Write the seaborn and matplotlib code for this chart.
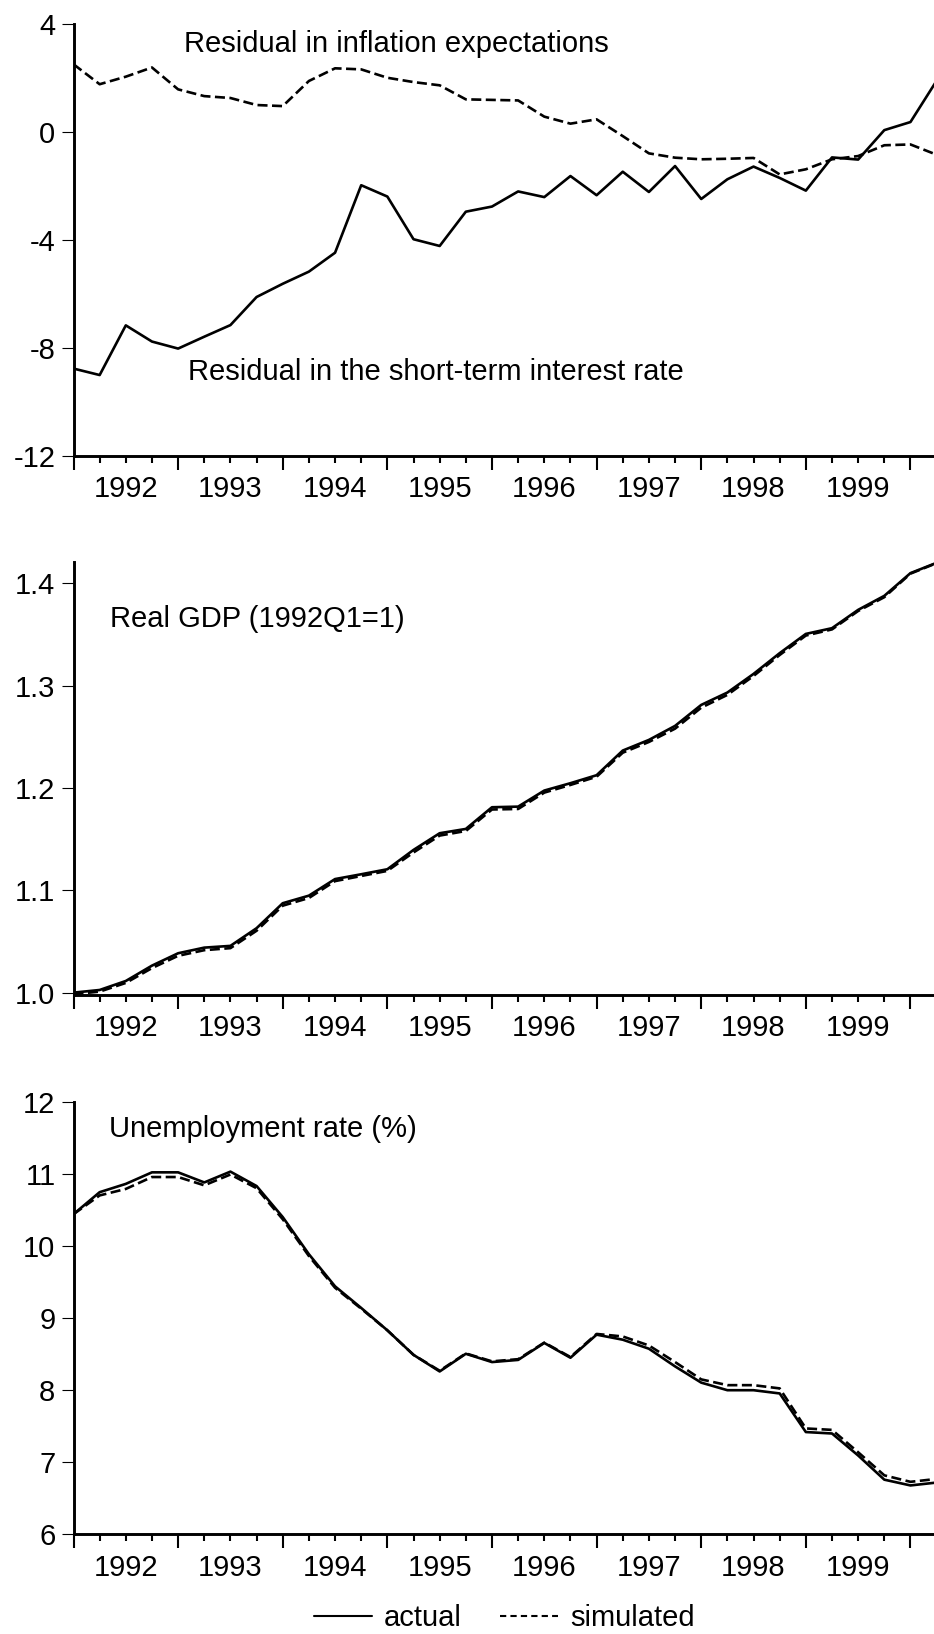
import numpy as np
import pandas as pd
import matplotlib
matplotlib.use("Agg")
import matplotlib.pyplot as plt
from matplotlib.lines import Line2D
from matplotlib.ticker import FixedLocator, FuncFormatter
import seaborn as sns

# quarterly sample, 1992Q1 onwards
quarters = [str(p) for p in pd.period_range("1992Q1", periods=34, freq="Q")]

# panel 1: residuals
resid_interest = [-8.76, -9.00, -7.16, -7.76, -8.02, -7.58, -7.15, -6.11, -5.62, -5.17,
                  -4.47, -1.97, -2.39, -3.97, -4.22, -2.95, -2.76, -2.20, -2.41, -1.63,
                  -2.34, -1.47, -2.22, -1.26, -2.48, -1.75, -1.28, -1.70, -2.17, -0.94,
                  -1.02, 0.07, 0.37, 1.90]
resid_inflation = [2.51, 1.77, 2.05, 2.39, 1.58, 1.33, 1.26, 1.00, 0.96, 1.89,
                   2.36, 2.32, 2.01, 1.85, 1.73, 1.21, 1.19, 1.17, 0.57, 0.31,
                   0.47, -0.15, -0.79, -0.95, -1.01, -0.99, -0.96, -1.57, -1.38, -1.01,
                   -0.89, -0.49, -0.46, -0.84]

# panel 2: real GDP index
gdp_actual = [1.0000, 1.0026, 1.0114, 1.0264, 1.0385, 1.0440, 1.0457, 1.0630, 1.0874, 1.0948,
              1.1110, 1.1157, 1.1206, 1.1395, 1.1558, 1.1600, 1.1812, 1.1818, 1.1975, 1.2047,
              1.2125, 1.2366, 1.2470, 1.2607, 1.2812, 1.2933, 1.3115, 1.3318, 1.3506, 1.3562,
              1.3741, 1.3878, 1.4100, 1.4201]
gdp_simulated = [0.9985, 1.0010, 1.0095, 1.0240, 1.0360, 1.0415, 1.0435, 1.0605, 1.0850, 1.0925,
                 1.1090, 1.1140, 1.1190, 1.1370, 1.1535, 1.1580, 1.1790, 1.1795, 1.1955, 1.2030,
                 1.2110, 1.2345, 1.2450, 1.2580, 1.2785, 1.2910, 1.3095, 1.3300, 1.3490, 1.3550,
                 1.3730, 1.3865, 1.4095, 1.4198]

# panel 3: unemployment rate
unemp_actual = [10.44, 10.745, 10.86, 11.02, 11.02, 10.88, 11.03, 10.83, 10.40, 9.885,
                9.44, 9.14, 8.83, 8.49, 8.26, 8.505, 8.39, 8.42, 8.655, 8.45,
                8.77, 8.70, 8.575, 8.33, 8.105, 8.00, 8.00, 7.955, 7.42, 7.40,
                7.095, 6.76, 6.68, 6.72]
unemp_simulated = [10.44, 10.70, 10.79, 10.955, 10.955, 10.84, 10.99, 10.80, 10.37, 9.86,
                   9.42, 9.13, 8.83, 8.49, 8.27, 8.51, 8.40, 8.43, 8.66, 8.46,
                   8.78, 8.745, 8.62, 8.39, 8.15, 8.07, 8.07, 8.025, 7.47, 7.45,
                   7.14, 6.82, 6.73, 6.77]

sns.set_theme(style="ticks")
plt.rcParams["font.family"] = ["Liberation Sans", "DejaVu Sans"]
plt.rcParams["font.size"] = 21
plt.rcParams["text.color"] = "black"
plt.rcParams["axes.labelcolor"] = "black"
plt.rcParams["xtick.color"] = "black"
plt.rcParams["ytick.color"] = "black"

df = pd.DataFrame({
    "quarter": quarters,
    "t": np.arange(len(quarters)),
    "resid_interest": resid_interest,
    "resid_inflation": resid_inflation,
    "gdp_actual": gdp_actual,
    "gdp_simulated": gdp_simulated,
    "unemp_actual": unemp_actual,
    "unemp_simulated": unemp_simulated,
})

DASH = (0, (3.8, 1.7))
LW = 1.9
FS = 21

fig = plt.figure(figsize=(9.34, 16.34), dpi=100)
left, width = 73.5 / 934, 1 - 73.5 / 934
ax1 = fig.add_axes([left, 0.7209, width, 0.2644])
ax2 = fig.add_axes([left, 0.3911, width, 0.2651])
ax3 = fig.add_axes([left, 0.0609, width, 0.2649])


def year_label(x, pos):
    i = int(round(x))
    if 0 <= i < len(quarters) and i % 4 == 2:
        return quarters[i][:4]
    return ""


def style_axis(ax, ylim, yticks, yfmt):
    ax.set_xlim(0, 32.9)
    ax.set_ylim(*ylim)
    ax.set_yticks(yticks)
    ax.set_yticklabels([yfmt.format(v) for v in yticks])
    q1 = [i for i in range(len(quarters)) if i % 4 == 0]
    other = [i for i in range(len(quarters)) if i % 4 != 0]
    ax.xaxis.set_major_locator(FixedLocator(q1))
    ax.xaxis.set_minor_locator(FixedLocator(other))
    ax.xaxis.set_major_formatter(FuncFormatter(lambda x, p: ""))
    ax.xaxis.set_minor_formatter(FuncFormatter(year_label))
    ax.tick_params(axis="x", which="major", length=10, width=1.5, color="black")
    ax.tick_params(axis="x", which="minor", length=5, width=1.5, color="black",
                   pad=9, labelsize=FS, labelcolor="black")
    ax.tick_params(axis="y", which="major", length=9, width=0.8, color="black",
                   pad=4, labelsize=FS, labelcolor="black")
    ax.tick_params(axis="y", which="minor", length=0)
    for s in ["top", "right"]:
        ax.spines[s].set_visible(False)
    for s in ["left", "bottom"]:
        ax.spines[s].set_linewidth(2.1)
        ax.spines[s].set_color("black")
    ax.set_xlabel("")
    ax.set_ylabel("")
    ax.set_facecolor("white")


# top panel
sns.lineplot(data=df, x="t", y="resid_interest", ax=ax1, color="black", lw=LW)
sns.lineplot(data=df, x="t", y="resid_inflation", ax=ax1, color="black", lw=LW, linestyle=DASH)
style_axis(ax1, (-12, 4), [-12, -8, -4, 0, 4], "{:g}")
ax1.text(4.24, 2.95, "Residual in inflation expectations", fontsize=FS, va="baseline")
ax1.text(4.36, -9.2, "Residual in the short-term interest rate", fontsize=FS, va="baseline")

# middle panel
sns.lineplot(data=df, x="t", y="gdp_actual", ax=ax2, color="black", lw=LW)
sns.lineplot(data=df, x="t", y="gdp_simulated", ax=ax2, color="black", lw=LW, linestyle=DASH)
style_axis(ax2, (0.99775, 1.4211), [1.0, 1.1, 1.2, 1.3, 1.4], "{:.1f}")
ax2.text(1.41, 1.357, "Real GDP (1992Q1=1)", fontsize=FS, va="baseline")

# bottom panel
sns.lineplot(data=df, x="t", y="unemp_actual", ax=ax3, color="black", lw=LW)
sns.lineplot(data=df, x="t", y="unemp_simulated", ax=ax3, color="black", lw=LW, linestyle=DASH)
style_axis(ax3, (6, 12), [6, 7, 8, 9, 10, 11, 12], "{:g}")
ax3.text(1.35, 11.506, "Unemployment rate (%)", fontsize=FS, va="baseline")

handles = [Line2D([], [], color="black", lw=1.5),
           Line2D([], [], color="black", lw=1.5, linestyle=(0, (3.0, 2.0)))]
fig.legend(handles, ["actual", "simulated"], loc="center", bbox_to_anchor=(0.54, 0.0095),
           ncol=2, frameon=False, fontsize=FS, handlelength=2.0, handletextpad=0.4,
           columnspacing=1.3, borderpad=0, borderaxespad=0)

fig.savefig("out.png", dpi=100, facecolor="white")
